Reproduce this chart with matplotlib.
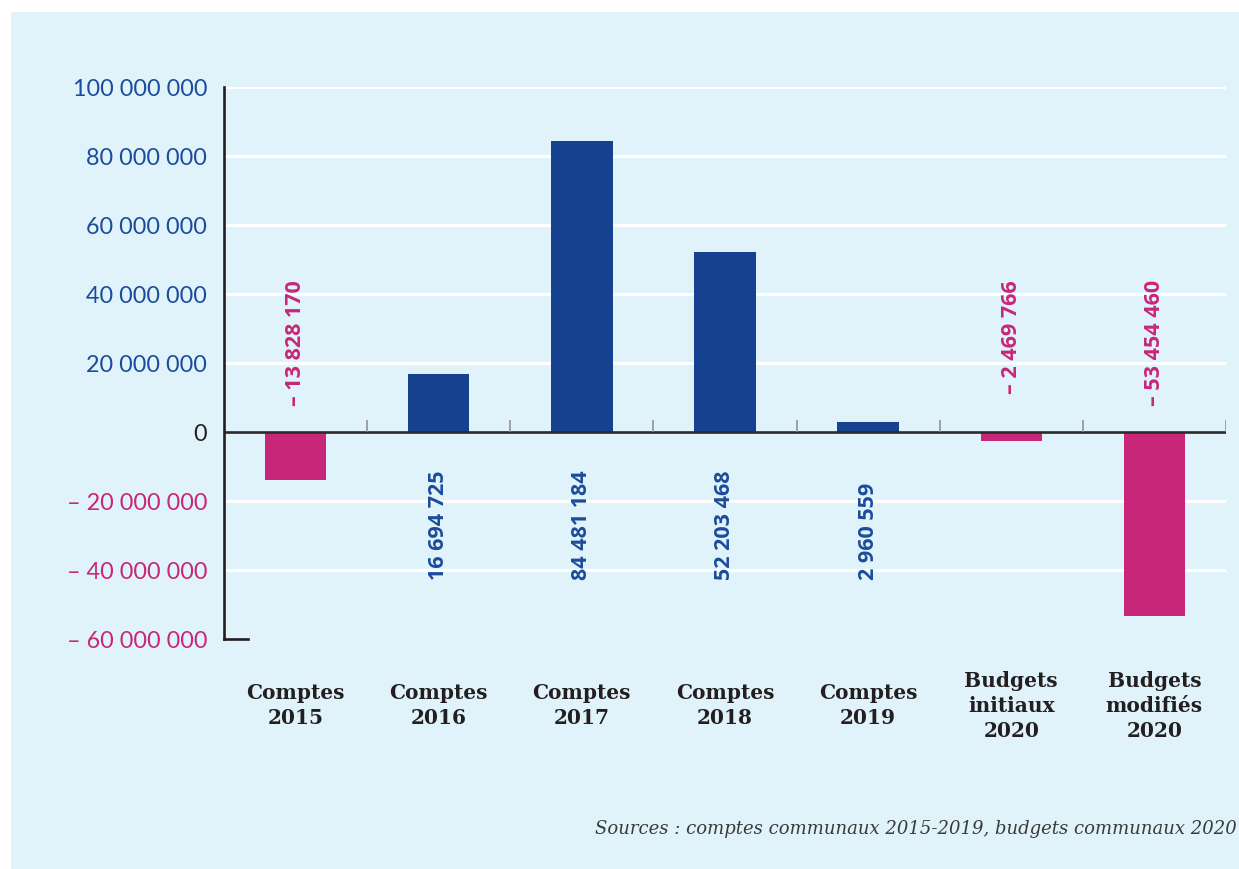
import numpy as np
import matplotlib.pyplot as plt
from matplotlib.patches import Rectangle

# data
categories = ["Comptes\n2015", "Comptes\n2016", "Comptes\n2017", "Comptes\n2018",
              "Comptes\n2019", "Budgets\ninitiaux\n2020", "Budgets\nmodifiés\n2020"]
values = [-13828170, 16694725, 84481184, 52203468, 2960559, -2469766, -53454460]
value_labels = ["– 13 828 170", "16 694 725", "84 481 184", "52 203 468",
                "2 960 559", "– 2 469 766", "– 53 454 460"]
yticks = [-60e6, -40e6, -20e6, 0, 20e6, 40e6, 60e6, 80e6, 100e6]
ytick_labels = ["– 60 000 000", "– 40 000 000", "– 20 000 000", "0", "20 000 000",
                "40 000 000", "60 000 000", "80 000 000", "100 000 000"]

BG = '#e0f2fa'
BLUE = '#15418f'
PINK = '#c82679'
TICK_BLUE = '#1b4c9b'
DARK = '#231f20'

fig = plt.figure(figsize=(12.39, 8.70), dpi=100)
fig.patch.set_facecolor('white')
fig.patches.append(Rectangle((11/1239, -0.01), 1 - 11/1239, 1.01 - 13/870,
                             transform=fig.transFigure, facecolor=BG,
                             edgecolor='none', zorder=-10))

ax = fig.add_axes([224/1239, 1 - 640/870, (1226-224)/1239, (640-88)/870])
ax.set_facecolor('none')

x = np.arange(len(values))
colors = [BLUE if v >= 0 else PINK for v in values]
ax.bar(x, values, width=0.43, color=colors, zorder=3)

ax.set_xlim(-0.5, 6.5)
ax.set_ylim(-60e6, 100e6)

# gridlines (none at 0 or at the bottom)
for t in yticks:
    if t not in (0, -60e6):
        ax.axhline(t, color='white', lw=2.2, zorder=1)
ax.axhline(0, color='#2b2b2b', lw=1.9, zorder=4)

# small ticks at category boundaries
ax.vlines(np.arange(0.5, 7, 1), 0, 3.5e6, color='#8a8a8a', lw=1.1, zorder=4)

# spines
for s in ['top', 'right']:
    ax.spines[s].set_visible(False)
ax.spines['left'].set_color(DARK)
ax.spines['left'].set_linewidth(1.9)
ax.spines['bottom'].set_color(DARK)
ax.spines['bottom'].set_linewidth(1.9)
ax.spines['bottom'].set_bounds(-0.5, -0.33)
ax.spines['left'].set_zorder(5)

# y ticks
ax.set_yticks(yticks)
ax.set_yticklabels(ytick_labels, fontfamily='Lato', fontsize=16.8)
ax.tick_params(axis='y', length=0, pad=12)
for lab, t in zip(ax.get_yticklabels(), yticks):
    lab.set_color(TICK_BLUE if t > 0 else (PINK if t < 0 else DARK))
ax.set_xticks([])

# value labels
for xi, v, lab in zip(x, values, value_labels):
    if v >= 0:
        ax.text(xi, -42.6e6, lab, rotation=90, ha='center', va='bottom',
                color=TICK_BLUE, fontfamily='Open Sans', fontweight='bold', fontsize=15.5)
    else:
        ax.text(xi, 44.3e6, lab, rotation=90, ha='center', va='top',
                color=PINK, fontfamily='Open Sans', fontweight='bold', fontsize=15.5)

# category labels
for xi, c in zip(x, categories):
    ax.text(xi, -79.1e6, c, ha='center', va='center', multialignment='center',
            color=DARK, fontfamily='DejaVu Serif', fontweight='bold', fontsize=14.5,
            linespacing=1.3, clip_on=False)

fig.text(1237/1239, 1 - 829/870,
         "Sources : comptes communaux 2015-2019, budgets communaux 2020",
         ha='right', va='center', fontfamily='DejaVu Serif', style='italic',
         fontsize=13, color='#3a3a3a')

fig.savefig('out.png', dpi=100, facecolor=fig.get_facecolor())
